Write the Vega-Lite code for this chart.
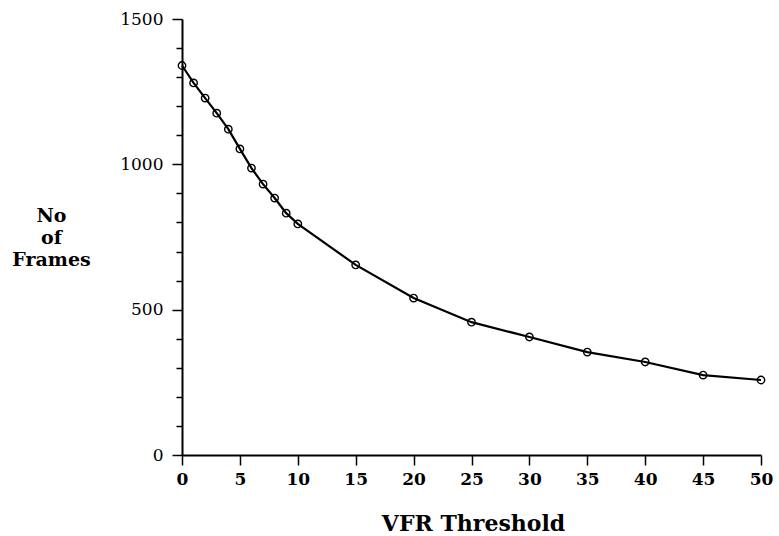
{
  "$schema": "https://vega.github.io/schema/vega-lite/v6.json",
  "width": 579,
  "height": 436,
  "autosize": {"type": "none"},
  "padding": {"left": 182, "top": 19, "right": 18, "bottom": 81},
  "background": "white",
  "config": {"view": {"stroke": null}},
  "data": {
    "values": [
      {"threshold": 0, "frames": 1340},
      {"threshold": 1, "frames": 1280},
      {"threshold": 2, "frames": 1228},
      {"threshold": 3, "frames": 1176},
      {"threshold": 4, "frames": 1121},
      {"threshold": 5, "frames": 1053},
      {"threshold": 6, "frames": 987},
      {"threshold": 7, "frames": 932},
      {"threshold": 8, "frames": 884},
      {"threshold": 9, "frames": 832},
      {"threshold": 10, "frames": 795},
      {"threshold": 15, "frames": 654},
      {"threshold": 20, "frames": 540},
      {"threshold": 25, "frames": 457},
      {"threshold": 30, "frames": 406},
      {"threshold": 35, "frames": 354},
      {"threshold": 40, "frames": 320},
      {"threshold": 45, "frames": 275},
      {"threshold": 50, "frames": 258}
    ]
  },
  "encoding": {
    "x": {
      "field": "threshold",
      "type": "quantitative",
      "scale": {"domain": [0, 50], "nice": false, "zero": false},
      "axis": {
        "values": [0, 5, 10, 15, 20, 25, 30, 35, 40, 45, 50],
        "format": "d",
        "grid": false,
        "domainColor": "black",
        "domainWidth": 2,
        "tickColor": "black",
        "tickWidth": 1.5,
        "tickSize": 10,
        "labelFont": "DejaVu Serif",
        "labelFontSize": 17,
        "labelFontWeight": "bold",
        "labelColor": "black",
        "labelPadding": 6,
        "labelFlush": false,
        "title": "VFR Threshold",
        "titleFont": "DejaVu Serif",
        "titleFontSize": 22,
        "titleFontWeight": "bold",
        "titleColor": "black",
        "titleBaseline": "alphabetic",
        "titleY": 75,
        "titleX": 291
      }
    },
    "y": {
      "field": "frames",
      "type": "quantitative",
      "scale": {"domain": [0, 1500], "nice": false},
      "axis": {
        "values": [0, 100, 200, 300, 400, 500, 600, 700, 800, 900, 1000, 1100, 1200, 1300, 1400, 1500],
        "format": "d",
        "labelExpr": "datum.value % 500 === 0 ? datum.label : ''",
        "grid": false,
        "domainColor": "black",
        "domainWidth": 2,
        "tickColor": "black",
        "tickWidth": 1.5,
        "tickSize": {"condition": {"test": "datum.value % 500 === 0", "value": 10}, "value": 6},
        "labelFont": "DejaVu Serif",
        "labelFontSize": 17,
        "labelColor": "black",
        "labelPadding": 9,
        "labelFlush": false,
        "title": ["No", "of", "Frames"],
        "titleFont": "DejaVu Serif",
        "titleFontSize": 19,
        "titleFontWeight": "bold",
        "titleColor": "black",
        "titleAngle": 0,
        "titleAlign": "center",
        "titleBaseline": "alphabetic",
        "titleLineHeight": 22,
        "titleX": -131,
        "titleY": 202
      }
    }
  },
  "layer": [
    {"mark": {"type": "line", "color": "black", "strokeWidth": 2.2}},
    {"mark": {"type": "point", "shape": "circle", "filled": false, "color": "black", "size": 55, "strokeWidth": 1.4, "opacity": 1}}
  ]
}
